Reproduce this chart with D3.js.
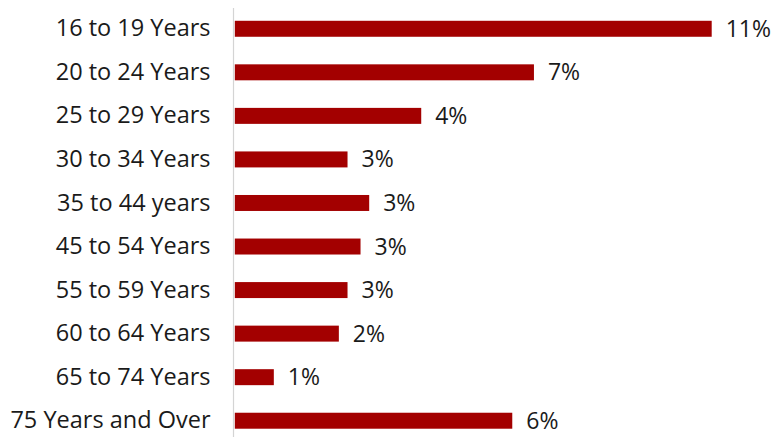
<!DOCTYPE html>
<html>
<head>
<meta charset="utf-8">
<script src="https://cdn.jsdelivr.net/npm/d3@7"></script>
<style>
  html, body { margin: 0; padding: 0; background: #fff; }
  svg { display: block; }
</style>
</head>
<body>
<svg id="chart" width="774" height="437"></svg>
<script>
// Share of each age group (percent)
const categories = [
  "16 to 19 Years", "20 to 24 Years", "25 to 29 Years", "30 to 34 Years",
  "35 to 44 years", "45 to 54 Years", "55 to 59 Years", "60 to 64 Years",
  "65 to 74 Years", "75 Years and Over"
];
const values = [11.0, 6.9, 4.3, 2.6, 3.1, 2.9, 2.6, 2.4, 0.9, 6.4];

const data = categories.map((c, i) => ({ category: c, value: values[i] }));

const svg = d3.select("#chart");
const plotLeft = 234.8, plotTop = 7.0, rowStep = 43.55;
const font = "'Open Sans', Lato, sans-serif";

const x = d3.scaleLinear()
  .domain([0, 11])
  .range([plotLeft, 711.7]);

const y = d3.scaleBand()
  .domain(categories)
  .range([plotTop, plotTop + rowStep * categories.length])
  .paddingInner(0.633)
  .paddingOuter(0.3165);

const fmt = v => d3.format(".0f")(v) + "%";

// bars
svg.append("g")
  .selectAll("rect")
  .data(data)
  .join("rect")
  .attr("x", x(0))
  .attr("y", d => y(d.category))
  .attr("width", d => x(d.value) - x(0))
  .attr("height", y.bandwidth())
  .attr("fill", "#a30000");

// category axis
const axis = svg.append("g")
  .attr("transform", `translate(${plotLeft - 1.3},0)`)
  .call(d3.axisLeft(y).tickSize(0).tickPadding(23));
axis.select(".domain")
  .attr("stroke", "#d4d4d4")
  .attr("stroke-width", 1.2)
  .attr("d", `M0,${plotTop + 1}V437`);
axis.selectAll("text")
  .attr("font-family", font)
  .attr("font-size", 23.5)
  .attr("fill", "#1a1a1a");

// value labels
svg.append("g")
  .selectAll("text")
  .data(data)
  .join("text")
  .attr("x", d => x(d.value) + 14)
  .attr("y", d => y(d.category) + y.bandwidth() / 2)
  .attr("dy", "0.35em")
  .attr("font-family", font)
  .attr("font-size", 23)
  .attr("fill", "#1a1a1a")
  .text(d => fmt(d.value));
</script>
</body>
</html>
